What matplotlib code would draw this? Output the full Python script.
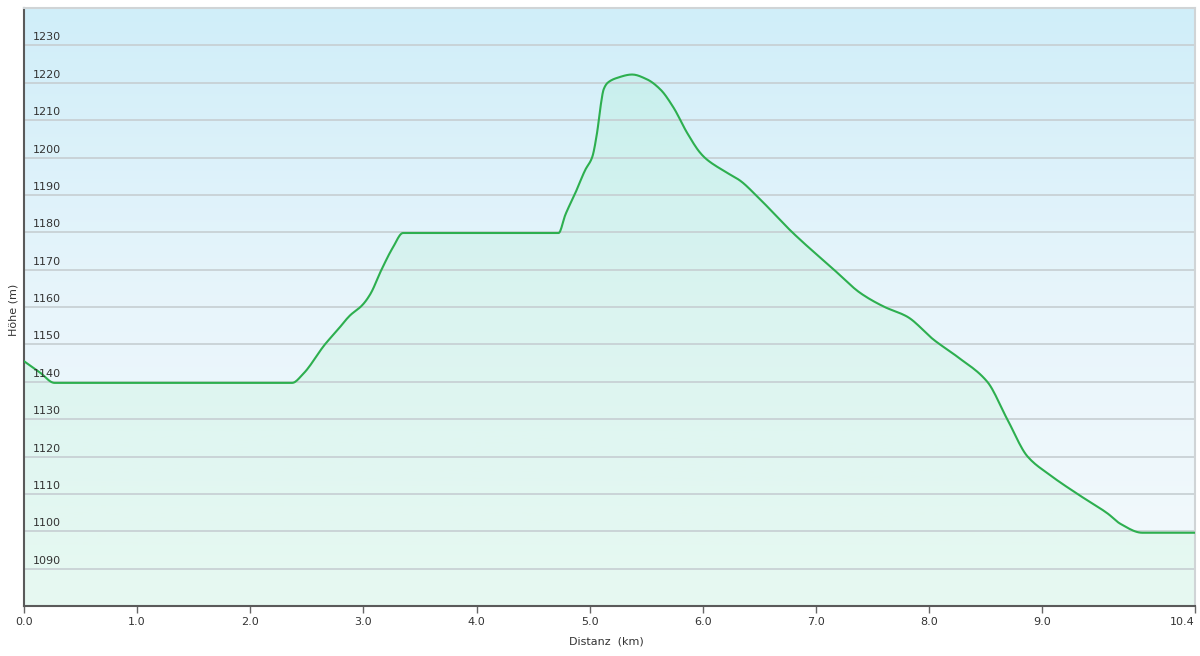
import numpy as np
import matplotlib
matplotlib.use("Agg")
import matplotlib.pyplot as plt
from matplotlib.colors import LinearSegmentedColormap

# ---- data (distance km, elevation m) ----
dist_km = [0.00, 0.14, 0.27, 2.37, 2.47, 2.66, 2.77, 2.88, 2.99, 3.06, 3.16, 3.26, 3.35,
           4.725, 4.785, 4.873, 4.961, 5.021, 5.065, 5.094, 5.123, 5.159, 5.242, 5.375,
           5.507, 5.625, 5.742, 5.861, 5.978, 6.038, 6.215, 6.33, 6.48, 6.79, 7.158,
           7.394, 7.60, 7.807, 8.042, 8.249, 8.514, 8.69, 8.87, 9.07, 9.31, 9.58, 9.69,
           9.885, 10.35]
elev_m = [1145.5, 1142.5, 1139.7, 1139.7, 1142.2, 1150.0, 1153.8, 1157.7, 1160.5, 1163.4,
          1170.0, 1175.9, 1179.8,
          1179.8, 1184.7, 1190.5, 1196.7, 1200.0, 1206.6, 1213.3, 1218.2, 1220.0, 1221.3, 1222.2,
          1220.9, 1218.2, 1213.3, 1206.6, 1201.2, 1199.4, 1195.9, 1193.8, 1189.6, 1180.0, 1170.0,
          1163.7, 1160.1, 1157.4, 1151.2, 1146.7, 1140.0, 1130.0, 1120.0, 1115.0, 1110.0, 1104.7, 1102.0,
          1099.6, 1099.6]

ytick_values = [1090, 1100, 1110, 1120, 1130, 1140, 1150, 1160, 1170, 1180, 1190, 1200, 1210, 1220, 1230]
xtick_values = [0, 1, 2, 3, 4, 5, 6, 7, 8, 9, 10.35]
xtick_labels = ["0.0", "1.0", "2.0", "3.0", "4.0", "5.0", "6.0", "7.0", "8.0", "9.0", "10.4"]

x = np.array(dist_km)
y = np.array(elev_m)
xmin, xmax = 0, 10.35
ymin, ymax = 1080, 1240


def pchip_curve(xs, ys, n_per=12):
    """Monotone cubic rendering of the profile through the data points."""
    h = np.diff(xs)
    d = np.diff(ys) / h
    m = np.zeros_like(ys)
    for k in range(1, len(xs) - 1):
        if d[k - 1] * d[k] <= 0:
            m[k] = 0.0
        else:
            w1 = 2 * h[k] + h[k - 1]
            w2 = h[k] + 2 * h[k - 1]
            m[k] = (w1 + w2) / (w1 / d[k - 1] + w2 / d[k])
    m[0] = d[0]
    m[-1] = d[-1]
    X, Y = [], []
    for k in range(len(xs) - 1):
        t = np.linspace(0, 1, n_per, endpoint=False)
        h00 = 2 * t**3 - 3 * t**2 + 1
        h10 = t**3 - 2 * t**2 + t
        h01 = -2 * t**3 + 3 * t**2
        h11 = t**3 - t**2
        X.append(xs[k] + t * h[k])
        Y.append(h00 * ys[k] + h10 * h[k] * m[k] + h01 * ys[k + 1] + h11 * h[k] * m[k + 1])
    X.append([xs[-1]])
    Y.append([ys[-1]])
    return np.concatenate(X), np.concatenate(Y)


xs, ys = pchip_curve(x, y)

fig = plt.figure(figsize=(12, 6.56), dpi=100)
ax = fig.add_axes([24/1200, 50/656, 1171/1200, 598/656])
ax.set_xlim(xmin, xmax)
ax.set_ylim(ymin, ymax)

# background gradient
bg = LinearSegmentedColormap.from_list("bg", ["#f4fafc", "#e8f5fb", "#d0eef9"])
grad = np.linspace(0, 1, 256).reshape(-1, 1)
ax.imshow(grad, aspect="auto", cmap=bg, origin="lower",
          extent=[xmin, xmax, ymin, ymax], zorder=0)

# area fill gradient clipped to polygon
poly = ax.fill_between(xs, ys, ymin, color="none", lw=0, zorder=1)
t = np.linspace(0, 1, 256)
fill_rgba = np.zeros((256, 1, 4))
fill_rgba[:, 0, 0] = 0.45
fill_rgba[:, 0, 1] = 0.95
fill_rgba[:, 0, 2] = 0.60
fill_rgba[:, 0, 3] = 0.10 + 0.02 * t
im = ax.imshow(fill_rgba, aspect="auto", origin="lower",
               extent=[xmin, xmax, ymin, ymax], zorder=1)
im.set_clip_path(poly.get_paths()[0], transform=ax.transData)

# grid lines
for v in ytick_values:
    ax.axhline(v, color="#c6ced2", lw=1.2, zorder=2)

# line
ax.plot(xs, ys, color="#2daf4f", lw=1.5, zorder=3, solid_joinstyle="round")

# y tick labels inside the plot
ax.set_yticks([])
for v in ytick_values:
    ax.text(9/1171, v + 0.8, str(v), transform=ax.get_yaxis_transform(),
            ha="left", va="bottom", fontsize=8, color="#333333", zorder=4)

ax.set_xticks(xtick_values)
ax.set_xticklabels(xtick_labels, fontsize=8, color="#333333")
ax.tick_params(axis="x", direction="out", length=5, width=1, color="#666666", pad=3)
last = ax.get_xticklabels()[-1]
last.set_horizontalalignment("right")

for s in ["left", "bottom"]:
    ax.spines[s].set_color("#5a5a5a")
    ax.spines[s].set_linewidth(1.5)
for s in ["top", "right"]:
    ax.spines[s].set_color("#d0d4d6")
    ax.spines[s].set_linewidth(1.5)

fig.text(606/1200, 1 - 642/656, "Distanz  (km)", ha="center", va="center",
         fontsize=8, color="#333333")
fig.text(14/1200, 1 - 310/656, "Höhe (m)", ha="center", va="center",
         rotation=90, fontsize=8, color="#333333")

fig.savefig("out.png", dpi=100)
